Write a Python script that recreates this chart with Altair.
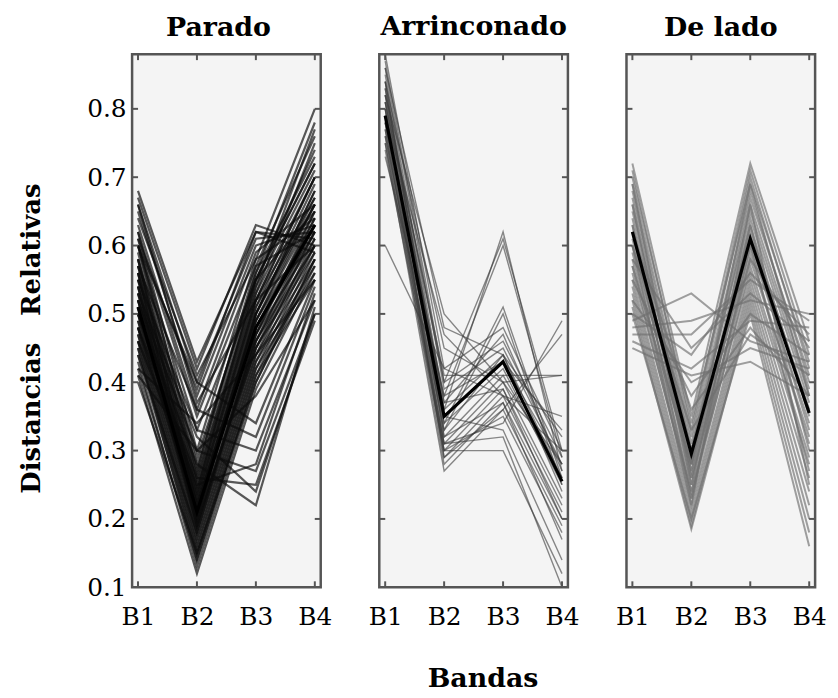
import altair as alt
import pandas as pd

SERIF = "DejaVu Serif"
BANDS = [1, 2, 3, 4]
Y_TICKS = [0.1, 0.2, 0.3, 0.4, 0.5, 0.6, 0.7, 0.8]
SIDE_TICKS = [0.2, 0.3, 0.4, 0.5, 0.6, 0.7, 0.8]
PANEL_TITLES = ["Parado", "Arrinconado", "De lado"]
Y_TITLE = "Distancias\u00a0\u00a0\u00a0Relativas"
X_TITLE = "Bandas"

# Each line: relative distance at bands B1, B2, B3, B4
PARADO = [
    (0.62, 0.30, 0.58, 0.80), (0.61, 0.28, 0.56, 0.78), (0.60, 0.27, 0.57, 0.76),
    (0.60, 0.29, 0.55, 0.74), (0.59, 0.26, 0.54, 0.77), (0.58, 0.27, 0.56, 0.73),
    (0.58, 0.25, 0.53, 0.75), (0.57, 0.26, 0.55, 0.72), (0.57, 0.24, 0.52, 0.70),
    (0.56, 0.25, 0.54, 0.71), (0.56, 0.23, 0.51, 0.69), (0.55, 0.24, 0.53, 0.70),
    (0.55, 0.22, 0.50, 0.68), (0.54, 0.23, 0.52, 0.67), (0.54, 0.22, 0.51, 0.66),
    (0.53, 0.21, 0.50, 0.68), (0.53, 0.22, 0.49, 0.65), (0.52, 0.20, 0.50, 0.66),
    (0.52, 0.21, 0.48, 0.64), (0.51, 0.20, 0.49, 0.63), (0.51, 0.19, 0.47, 0.65),
    (0.50, 0.21, 0.48, 0.62), (0.50, 0.19, 0.46, 0.63), (0.49, 0.20, 0.47, 0.61),
    (0.49, 0.18, 0.45, 0.62), (0.48, 0.19, 0.46, 0.60), (0.48, 0.17, 0.44, 0.61),
    (0.47, 0.18, 0.45, 0.59), (0.47, 0.16, 0.43, 0.60), (0.46, 0.17, 0.44, 0.58),
    (0.46, 0.15, 0.42, 0.59), (0.45, 0.16, 0.43, 0.57), (0.45, 0.14, 0.41, 0.58),
    (0.44, 0.15, 0.42, 0.56), (0.43, 0.13, 0.40, 0.57), (0.42, 0.14, 0.41, 0.55),
    (0.41, 0.12, 0.39, 0.56), (0.40, 0.15, 0.40, 0.58), (0.44, 0.18, 0.47, 0.64),
    (0.52, 0.24, 0.55, 0.72), (0.56, 0.20, 0.45, 0.60), (0.50, 0.23, 0.52, 0.70),
    (0.48, 0.21, 0.50, 0.67), (0.54, 0.19, 0.46, 0.62), (0.58, 0.22, 0.49, 0.66),
    (0.68, 0.43, 0.62, 0.61), (0.67, 0.42, 0.63, 0.60), (0.66, 0.40, 0.61, 0.62),
    (0.65, 0.38, 0.60, 0.63), (0.64, 0.41, 0.58, 0.64), (0.63, 0.36, 0.59, 0.66),
    (0.62, 0.35, 0.57, 0.62), (0.61, 0.39, 0.62, 0.59), (0.60, 0.33, 0.55, 0.65),
    (0.66, 0.37, 0.52, 0.60), (0.52, 0.30, 0.27, 0.50), (0.55, 0.33, 0.30, 0.52),
    (0.50, 0.28, 0.22, 0.51), (0.57, 0.36, 0.32, 0.54), (0.48, 0.26, 0.25, 0.49),
    (0.60, 0.40, 0.34, 0.55), (0.46, 0.25, 0.28, 0.53), (0.53, 0.32, 0.24, 0.50),
    (0.41, 0.30, 0.38, 0.52), (0.42, 0.34, 0.44, 0.55),
]
PARADO_MEAN = (0.51, 0.21, 0.48, 0.63)

ARRINCONADO = [
    (0.88, 0.42, 0.48, 0.30), (0.87, 0.40, 0.46, 0.29), (0.86, 0.39, 0.45, 0.28),
    (0.85, 0.37, 0.47, 0.27), (0.84, 0.36, 0.44, 0.26), (0.83, 0.35, 0.43, 0.28),
    (0.82, 0.34, 0.42, 0.25), (0.81, 0.33, 0.44, 0.24), (0.80, 0.32, 0.41, 0.26),
    (0.79, 0.31, 0.40, 0.23), (0.78, 0.30, 0.39, 0.22), (0.77, 0.29, 0.38, 0.21),
    (0.76, 0.28, 0.37, 0.20), (0.75, 0.27, 0.36, 0.19), (0.74, 0.30, 0.35, 0.18),
    (0.80, 0.36, 0.62, 0.27), (0.78, 0.38, 0.60, 0.29), (0.82, 0.40, 0.61, 0.30),
    (0.79, 0.34, 0.51, 0.26), (0.76, 0.33, 0.50, 0.25), (0.84, 0.45, 0.40, 0.41),
    (0.81, 0.41, 0.41, 0.41), (0.60, 0.42, 0.38, 0.35), (0.77, 0.30, 0.30, 0.12),
    (0.75, 0.31, 0.32, 0.10), (0.83, 0.35, 0.33, 0.14), (0.80, 0.29, 0.36, 0.47),
    (0.78, 0.31, 0.34, 0.49), (0.82, 0.50, 0.40, 0.28), (0.79, 0.47, 0.38, 0.30),
    (0.86, 0.48, 0.44, 0.32), (0.73, 0.38, 0.43, 0.33), (0.81, 0.37, 0.39, 0.20),
    (0.84, 0.32, 0.37, 0.17),
]
ARRINCONADO_MEAN = (0.79, 0.35, 0.43, 0.255)

DE_LADO = [
    (0.72, 0.35, 0.72, 0.46), (0.71, 0.33, 0.71, 0.44), (0.70, 0.34, 0.69, 0.43),
    (0.69, 0.32, 0.70, 0.42), (0.68, 0.31, 0.68, 0.40), (0.67, 0.30, 0.67, 0.41),
    (0.66, 0.29, 0.66, 0.39), (0.65, 0.30, 0.65, 0.38), (0.64, 0.28, 0.64, 0.37),
    (0.63, 0.27, 0.63, 0.35), (0.62, 0.28, 0.62, 0.36), (0.61, 0.26, 0.61, 0.33),
    (0.60, 0.27, 0.60, 0.34), (0.59, 0.25, 0.59, 0.31), (0.58, 0.24, 0.58, 0.32),
    (0.57, 0.23, 0.57, 0.29), (0.56, 0.24, 0.56, 0.28), (0.55, 0.22, 0.55, 0.26),
    (0.54, 0.21, 0.54, 0.24), (0.53, 0.20, 0.53, 0.22), (0.52, 0.19, 0.52, 0.20),
    (0.51, 0.185, 0.51, 0.18), (0.50, 0.20, 0.50, 0.16), (0.66, 0.25, 0.63, 0.30),
    (0.63, 0.23, 0.60, 0.27), (0.60, 0.22, 0.66, 0.25), (0.69, 0.26, 0.58, 0.45),
    (0.57, 0.28, 0.69, 0.38), (0.49, 0.53, 0.46, 0.43), (0.47, 0.47, 0.55, 0.49),
    (0.48, 0.49, 0.52, 0.50), (0.50, 0.44, 0.56, 0.47), (0.46, 0.42, 0.49, 0.48),
    (0.52, 0.40, 0.45, 0.42), (0.55, 0.38, 0.50, 0.44), (0.58, 0.45, 0.53, 0.46),
    (0.45, 0.41, 0.43, 0.38), (0.62, 0.36, 0.48, 0.38), (0.60, 0.33, 0.47, 0.41),
]
DE_LADO_MEAN = (0.62, 0.295, 0.61, 0.355)

W, H = 190, 537
XS = alt.Scale(domain=[0.9, 4.1], nice=False, zero=False)
YS = alt.Scale(domain=[0.1, 0.88], nice=False, zero=False)


def long_df(lines):
    rows = []
    for i, line in enumerate(lines):
        for b, v in zip(BANDS, line):
            rows.append({"id": i, "b": b, "v": v})
    return pd.DataFrame(rows)


def panel(title, lines, mean, color, opacity, width, show_y, xtitle, title_dx):
    xaxis_kw = dict(
        values=BANDS, labelExpr="'B' + datum.value", ticks=False, domain=False,
        grid=False, labelFont=SERIF, labelFontSize=25, labelColor="#000",
        labelPadding=17, labelFlush=False, labelOverlap=False,
    )
    if xtitle:
        xaxis = alt.Axis(title=xtitle, titleFont=SERIF, titleFontSize=27,
                         titleFontWeight="bold", titleColor="#000",
                         titlePadding=37, titleX=104, **xaxis_kw)
    else:
        xaxis = alt.Axis(title=None, **xaxis_kw)
    if show_y:
        yaxis = alt.Axis(values=Y_TICKS, format=".1f", ticks=False, domain=False,
                         grid=False, labelFont=SERIF, labelFontSize=25,
                         labelColor="#000", labelPadding=6, labelFlush=False,
                         title=Y_TITLE, titleFont=SERIF,
                         titleFontSize=26, titleFontWeight="bold", titleColor="#000",
                         titlePadding=43, titleY=286)
    else:
        yaxis = None

    X = alt.X("b:Q", scale=XS, axis=xaxis)
    Y = alt.Y("v:Q", scale=YS, axis=yaxis)

    base = alt.Chart(long_df(lines)).mark_line(
        color=color, strokeWidth=width, opacity=opacity
    ).encode(x=X, y=Y, detail="id:N")

    mean_layer = alt.Chart(long_df([mean])).mark_line(
        color="#000", strokeWidth=3.2
    ).encode(x=X, y=Y)

    side = pd.DataFrame({"v": SIDE_TICKS})
    tick_l = alt.Chart(side).mark_rule(color="#555", strokeWidth=2).encode(
        y=Y, x=alt.value(0), x2=alt.value(6))
    tick_r = alt.Chart(side).mark_rule(color="#555", strokeWidth=2).encode(
        y=Y, x=alt.value(W - 6), x2=alt.value(W))
    bands = pd.DataFrame({"b": BANDS})
    tick_t = alt.Chart(bands).mark_rule(color="#555", strokeWidth=2).encode(
        x=X, y=alt.value(0), y2=alt.value(6))
    tick_b = alt.Chart(bands).mark_rule(color="#555", strokeWidth=2).encode(
        x=X, y=alt.value(H - 6), y2=alt.value(H))

    return alt.layer(base, mean_layer, tick_l, tick_r, tick_t, tick_b).properties(
        width=W, height=H,
        title=alt.TitleParams(title, font=SERIF, fontSize=27, fontWeight="bold",
                              color="#000", offset=11, dx=title_dx),
    )


p1 = panel(PANEL_TITLES[0], PARADO, PARADO_MEAN, "#0a0a0a", 0.68, 2.2, True, None, -8)
p2 = panel(PANEL_TITLES[1], ARRINCONADO, ARRINCONADO_MEAN, "#3a3a3a", 0.6, 1.4, False, X_TITLE, 0)
p3 = panel(PANEL_TITLES[2], DE_LADO, DE_LADO_MEAN, "#6e6e6e", 0.65, 2.0, False, None, 0)

chart = alt.hconcat(p1, p2, p3, spacing=59, bounds="flush").configure_view(
    stroke="#555555", strokeWidth=2.5, fill="#f4f4f4"
).properties(
    background="#ffffff", padding={"left": 8, "top": 0, "right": 2, "bottom": 0}
)

chart.save("out.html", embed_options={"renderer": "svg", "actions": False})
